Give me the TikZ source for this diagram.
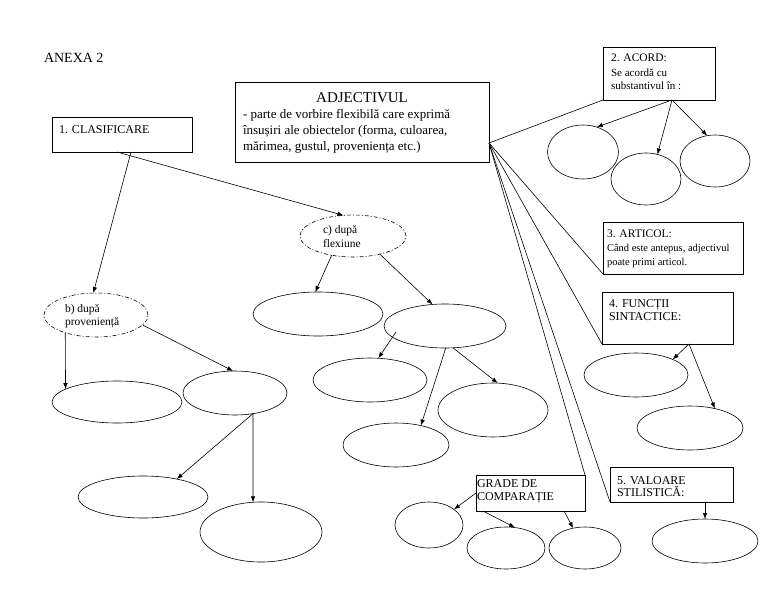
\documentclass[tikz,border=0pt]{standalone}
\usepackage{fontspec}
\setmainfont{Liberation Serif}
\usetikzlibrary{shapes.geometric,arrows.meta,calc}
\newcommand\fsz[1]{\fontsize{#1}{#1}\selectfont}
\begin{document}
\begin{tikzpicture}[x=1pt,y=-1pt,
  line width=0.6pt,
  box/.style={draw, rectangle, anchor=north west, inner sep=0pt, outer sep=0pt},
  oval/.style={draw, ellipse, inner sep=0pt, outer sep=0pt},
  dashoval/.style={oval, dash pattern=on 4pt off 2pt on 1pt off 2pt},
  txt/.style={anchor=base west, inner sep=0pt, outer sep=0pt, font=\fsz{12}},
  arr/.style={-{Latex[length=6pt,width=4.5pt]}},
]
\useasboundingbox (0,0) rectangle (768,594);

% title
\node[txt, font=\fsz{14}] (anexa) at (44,63) {ANEXA 2};

% boxes
\node[box, minimum width=140, minimum height=35] (clas) at (52,117) {};
\node[txt] (clast) at (59,133) {1. CLASIFICARE};

\node[box, minimum width=254, minimum height=80] (adj) at (235,82) {};
\node[anchor=base, inner sep=0pt, font=\fsz{15}] (adjt) at (362,102) {ADJECTIVUL};
\node[txt, font=\fsz{13}] (adj1) at (243,118) {- parte de vorbire flexibilă care exprimă};
\node[txt, font=\fsz{13}] (adj2) at (243,134) {însușiri ale obiectelor (forma, culoarea,};
\node[txt, font=\fsz{13}] (adj3) at (243,150) {mărimea, gustul, proveniența etc.)};

\node[box, minimum width=112, minimum height=53] (acord) at (603,47) {};
\node[txt, font=\fsz{11.5}] (acord1) at (611,62) {2. ACORD:};
\node[txt, font=\fsz{11}] (acord2) at (611,76) {Se acordă cu};
\node[txt, font=\fsz{11}] (acord3) at (611,89) {substantivul în :};

\node[box, minimum width=140, minimum height=52] (artic) at (603,222) {};
\node[txt, font=\fsz{11.5}] (artic1) at (607,237) {3. ARTICOL:};
\node[txt, font=\fsz{10.5}] (artic2) at (607,251) {Când este antepus, adjectivul};
\node[txt, font=\fsz{10.5}] (artic3) at (607,265) {poate primi articol.};

\node[box, minimum width=131, minimum height=52] (func) at (602,292) {};
\node[txt] (func1) at (609,307) {4. FUNCȚII};
\node[txt] (func2) at (609,320) {SINTACTICE:};

\node[box, minimum width=123, minimum height=35] (val) at (610,467) {};
\node[txt] (val1) at (617,484) {5. VALOARE};
\node[txt] (val2) at (617,496) {STILISTICĂ:};

\node[box, minimum width=109, minimum height=36] (grade) at (476,475) {};
\node[txt] (grade1) at (477,487) {GRADE DE};
\node[txt] (grade2) at (477,500) {COMPARAȚIE};

% dash-dot ellipses
\node[dashoval, minimum width=104, minimum height=44] (b) at (96,315) {};
\node[txt, font=\fsz{11.5}] (bt1) at (65,312) {b) după};
\node[txt, font=\fsz{11.5}] (bt2) at (65,325) {proveniență};
\node[dashoval, minimum width=106, minimum height=42] (c) at (353,236) {};
\node[txt, font=\fsz{11.5}] (ct1) at (323,233) {c) după};
\node[txt, font=\fsz{11.5}] (ct2) at (323,247) {flexiune};

% empty ellipses
\node[oval, minimum width=130, minimum height=44] (c1) at (318,314) {};
\node[oval, minimum width=122, minimum height=44] (c2) at (445,326) {};
\node[oval, minimum width=114, minimum height=44] (c3) at (370,380) {};
\node[oval, minimum width=106, minimum height=44] (c4) at (396,445) {};
\node[oval, minimum width=110, minimum height=54] (c5) at (493,410) {};
\node[oval, minimum width=130, minimum height=42] (b1) at (117,402) {};
\node[oval, minimum width=104, minimum height=44] (b2) at (235,393) {};
\node[oval, minimum width=130, minimum height=42] (b3) at (143,497) {};
\node[oval, minimum width=122, minimum height=60] (b4) at (261,532) {};
\node[oval, minimum width=71, minimum height=54] (e1) at (583,152) {};
\node[oval, minimum width=70, minimum height=52] (e2) at (646,179) {};
\node[oval, minimum width=70, minimum height=52] (e3) at (715,161) {};
\node[oval, minimum width=104, minimum height=44] (f1) at (636,375) {};
\node[oval, minimum width=106, minimum height=44] (f2) at (690,428) {};
\node[oval, minimum width=106, minimum height=44] (v) at (705,541) {};
\node[oval, minimum width=68, minimum height=46] (g1) at (429,525) {};
\node[oval, minimum width=78, minimum height=42] (g2) at (506,548) {};
\node[oval, minimum width=72, minimum height=42] (g3) at (585,548) {};

% connectors from ADJECTIVUL
\coordinate (hub) at ($(adj.south east)+(0,-19)$);
\draw (hub) -- (acord.south west);
\draw (hub) -- (artic.south west);
\draw (hub) -- (func.south west);
\draw (hub) -- (grade.north east);
\draw (hub) -- (val.south west);

% clasificare
\coordinate (clasA) at ($(clas.south west)+(79,0)$);
\coordinate (clasB) at ($(clas.south west)+(65,0)$);
\draw[arr] (clasA) -- (b.97);
\draw[arr] (clasB) -- (c.115);

\draw[arr] (c.222) -- (c1.97);
\draw[arr] (c.326) -- (c2.120);
\coordinate (c2in) at ($(c2.center)+(-49,6)$);
\draw[arr] (c2in) -- (c3.69);
\draw[arr] (c2.272) -- (c4.38);
\draw[arr] (c2.290) -- (c5.80);

\draw[arr] (b.210) -- (b1.166);
\draw[arr] (b.348) -- (b2.95);
\draw[arr] (b2.311) -- (b3.28);
\draw[arr] (b2.311) -- (b4.105);

% acord
\coordinate (ac0) at ($(acord.south west)+(69,0)$);
\draw[arr] (ac0) -- (e1.61);
\draw[arr] (ac0) -- (e2.65);
\draw[arr] (ac0) -- (e3.107);

% functii
\coordinate (fu0) at ($(func.south west)+(87,0)$);
\draw[arr] (fu0) -- (f1.23);
\draw[arr] (fu0) -- (f2.38);

% valoare
\draw[arr] (v.north |- val.south) -- (v.north);

% grade
\draw[arr] (grade.west) -- (g1.32);
\coordinate (gr1) at ($(grade.south west)+(7,0)$);
\coordinate (gr2) at ($(grade.south west)+(88,0)$);
\draw[arr] (gr1) -- (g2.66);
\draw[arr] (gr2) -- (g3.121);
\end{tikzpicture}
\end{document}
